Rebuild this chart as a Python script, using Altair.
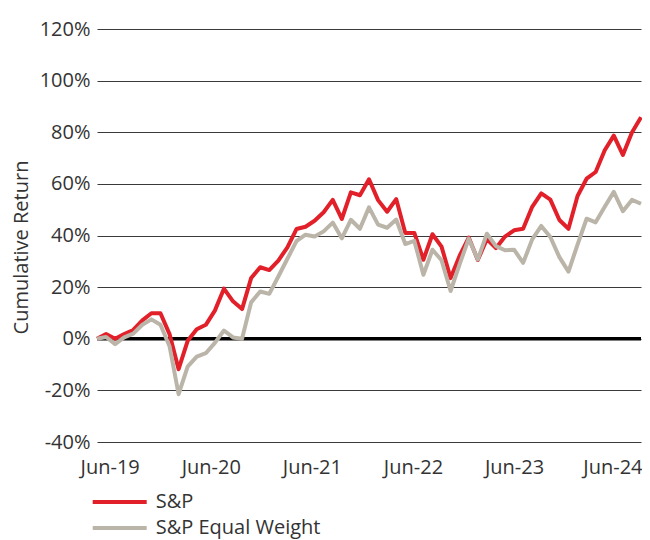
import altair as alt
import pandas as pd

# month index 0 = Jun-19 ... 60 = Jun-24
months = list(range(61))

sp = [
    0, 1.8, 0, 1.8, 3.4, 7.1, 9.9, 9.9, 1.8, -11.8,
    -0.8, 3.7, 5.4, 10.9, 19.4, 14.5, 11.5, 23.5, 27.7, 26.6,
    30.3, 35.4, 42.5, 43.4, 45.7, 49.0, 53.8, 46.4, 56.7, 55.6,
    61.8, 53.7, 49.2, 54.1, 41.0, 41.0, 30.6, 40.5, 35.7, 23.5,
    32.2, 39.2, 30.5, 38.6, 35.1, 39.6, 42.0, 42.6, 51.1, 56.3,
    53.9, 46.0, 42.6, 55.3, 62.0, 64.6, 73.0, 78.7, 71.2, 79.9,
    85.8,
]

sp_eq = [
    0, 0.7, -2.1, 0.5, 2.0, 5.4, 7.5, 5.4, -2.9, -21.5,
    -10.8, -6.9, -5.6, -1.6, 3.2, 0.5, 0, 14.1, 18.3, 17.4,
    24.1, 31.0, 37.8, 40.3, 39.6, 41.6, 45.0, 38.9, 46.1, 42.6,
    50.9, 44.2, 43.0, 46.2, 36.7, 37.9, 24.8, 34.5, 30.4, 18.5,
    28.9, 38.8, 30.7, 40.7, 35.9, 34.3, 34.5, 29.4, 38.5, 43.7,
    39.4, 31.6, 26.0, 36.5, 46.5, 45.1, 51.1, 56.9, 49.4, 53.8,
    52.3,
]

series_names = ["S&P", "S&P Equal Weight"]
series_colors = ["#E2202A", "#BAB5A8"]

x_tick_pos = [1.4, 12.55, 23.7, 34.85, 46.0, 56.85]
x_tick_labels = ["Jun-19", "Jun-20", "Jun-21", "Jun-22", "Jun-23", "Jun-24"]
y_ticks = [-40, -20, 0, 20, 40, 60, 80, 100, 120]

FONT = "Open Sans"
TXT = "#333333"

df = pd.DataFrame({
    "idx": months + months,
    "value": sp + sp_eq,
    "series": [series_names[0]] * len(sp) + [series_names[1]] * len(sp_eq),
})

pos_list = ",".join(str(p) for p in x_tick_pos)
lab_list = ",".join("'" + s + "'" for s in x_tick_labels)
x_label_expr = f"[{lab_list}][indexof([{pos_list}], datum.value)]"

x_enc = alt.X(
    "idx:Q",
    scale=alt.Scale(domain=[0, 60], nice=False, zero=False),
    axis=alt.Axis(
        values=x_tick_pos, labelExpr=x_label_expr, grid=False, domain=False,
        ticks=False, tickSize=0, labelPadding=25, labelBaseline="middle",
        labelFlush=False, labelOverlap=False, labelFontSize=20, labelFont=FONT,
        labelColor=TXT, title=None,
    ),
)

y_enc = alt.Y(
    "value:Q",
    scale=alt.Scale(domain=[-40, 120], nice=False, zero=False),
    axis=alt.Axis(
        values=y_ticks, labelExpr="datum.value + '%'", grid=True,
        gridColor="#3a3a3a", gridWidth=1, domain=False, ticks=False, tickSize=0,
        labelPadding=7, labelFontSize=20, labelFont=FONT, labelColor=TXT,
        title="Cumulative Return", titleFontSize=20, titleFont=FONT,
        titleFontWeight="normal", titleColor=TXT, titleX=-76, titleY=218,
        titleBaseline="middle", titleAngle=270,
    ),
)

zero = alt.Chart(pd.DataFrame({"value": [0]})).mark_rule(
    color="black", strokeWidth=3.5
).encode(y=alt.Y("value:Q"))

lines = alt.Chart(df).mark_line(strokeWidth=4, strokeJoin="round").encode(
    x=x_enc,
    y=y_enc,
    color=alt.Color(
        "series:N",
        scale=alt.Scale(domain=series_names, range=series_colors),
        legend=alt.Legend(
            orient="none", legendX=-6.3, legendY=462, direction="vertical",
            title=None, symbolType="M-3,0L3,0", symbolSize=324,
            symbolStrokeWidth=4, symbolOffset=18, labelOffset=25,
            labelFontSize=20, labelFont=FONT, labelColor=TXT,
            rowPadding=5, padding=0, labelLimit=400,
        ),
    ),
)

chart = alt.layer(zero, lines).properties(
    width=544, height=413,
    autosize=alt.AutoSizeParams(type="none"),
    padding={"left": 89, "top": 21, "right": 1, "bottom": 97},
    background="white",
).configure_view(stroke=None)

chart.save("out.html", embed_options={"renderer": "svg", "actions": False})
